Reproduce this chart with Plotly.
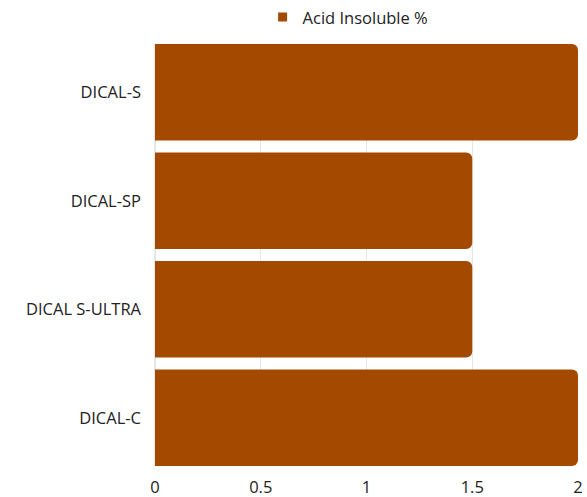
import plotly.graph_objects as go

categories = ["DICAL-S", "DICAL-SP", "DICAL S-ULTRA", "DICAL-C"]
acid_insoluble = [2, 1.5, 1.5, 2]
series_name = "Acid Insoluble %"
x_ticks = [0, 0.5, 1, 1.5, 2]
x_tick_labels = ["0", "0.5", "1", "1.5", "2"]
bar_color = "#A34A00"
gap = 0.11

fig = go.Figure()
fig.add_trace(go.Bar(
    y=categories,
    x=acid_insoluble,
    orientation="h",
    name=series_name,
    marker=dict(color=bar_color, cornerradius=6, line=dict(width=0)),
    showlegend=False,
))
# legend entry with a square swatch
fig.add_trace(go.Scatter(
    x=[None], y=[None], mode="markers", name=series_name,
    marker=dict(symbol="square", size=9, color=bar_color),
    showlegend=True,
))

fig.update_layout(
    width=587,
    height=497,
    margin=dict(l=155, r=9, t=44, b=31, autoexpand=False),
    paper_bgcolor="white",
    plot_bgcolor="white",
    font=dict(family="Open Sans", size=16.5, color="#222222"),
    bargap=gap,
    showlegend=True,
    legend=dict(
        orientation="h",
        xref="container", yref="container",
        x=0.593, xanchor="center",
        y=0.965, yanchor="middle",
        font=dict(size=16.5, color="#222222"),
        itemwidth=30,
    ),
    xaxis=dict(
        range=[0, 2],
        tickvals=x_ticks,
        ticktext=x_tick_labels,
        showgrid=True,
        gridcolor="#e6e6e6",
        gridwidth=1,
        zeroline=True,
        zerolinecolor="#e6e6e6",
        showline=False,
        ticks="",
        automargin=False,
        ticklabeloverflow="allow",
        ticklabelstandoff=9,
        fixedrange=True,
    ),
    yaxis=dict(
        categoryorder="array",
        categoryarray=categories[::-1],
        range=[-0.5 + gap / 2, len(categories) - 0.5 - gap / 2],
        showgrid=False,
        zeroline=False,
        ticks="",
        ticklen=0,
        automargin=False,
        ticklabelstandoff=13,
        fixedrange=True,
    ),
)

fig.write_html(
    "out.html",
    config={"displayModeBar": False},
    post_script="document.body.style.margin='0';document.body.style.overflow='hidden';",
)
